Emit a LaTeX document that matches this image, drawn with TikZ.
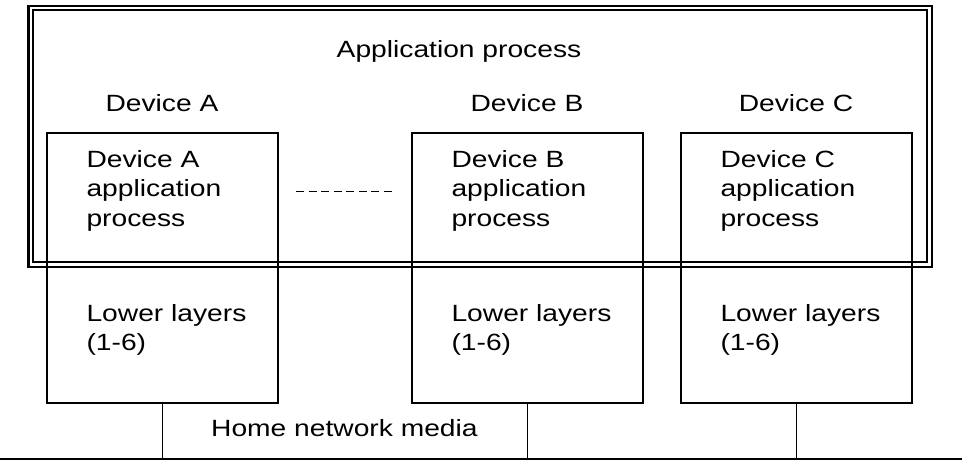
\documentclass[tikz,border=0pt]{standalone}
\usepackage{fontspec}
\setmainfont{Liberation Sans}[FakeStretch=1.2]
\usetikzlibrary{arrows,shapes}
\tikzstyle{device}=[draw,rectangle,line width=1.3pt,minimum width=231pt,minimum height=270pt,inner sep=0pt]
\tikzstyle{frame}=[draw,double,line width=2.2pt,double distance=2.2pt]
\tikzstyle{txt}=[inner sep=0pt,font=\fontsize{23.5}{29.5}\selectfont]
\tikzstyle{edge} = [draw,line width=1.1pt,-]

\begin{document}
\begin{tikzpicture}[x=1pt,y=-1pt]
    \useasboundingbox (0,0) rectangle (962,460);
    % Draw the application process frame
    \draw[frame] (30.75,7.9) rectangle (929.5,264.5);
    \node[txt,anchor=base] (app) at (459,58) {Application process};
    % First we draw the devices
    \foreach \pos/\name in {{(162.5,268)/A}, {(527.5,268)/B}, {(796.5,268)/C}}
        \node[device] (dev\name) at \pos {};
    \foreach \x/\name in {162/A, 527/B, 796/C}
        \node[txt,anchor=base] (head\name) at (\x,111) {Device \name};
    % Texts inside the devices (base = last line)
    \foreach \name in {A,B,C} {
        \node[txt,align=left,anchor=base west] (proc\name) at ([xshift=40pt,yshift=-94pt]dev\name.north west) {Device \name\\application\\process};
        \node[txt,align=left,anchor=base west] (low\name) at ([xshift=40pt,yshift=-218.5pt]dev\name.north west) {Lower layers\\(1-6)};
    }
    \coordinate (dashL) at (296,191);
    \coordinate (dashR) at (393,191);
    \draw[line width=1pt,dash pattern=on 8pt off 4.5pt] (dashL) -- (dashR);
    % Home network media
    \coordinate (mediaL) at (0,459);
    \coordinate (mediaR) at (962,459);
    \path[edge] (mediaL) -- (mediaR);
    \foreach \name in {A,B,C}
        \path[edge] (dev\name.south) -- (dev\name.south |- mediaL);
    \node[txt,anchor=base west] (media) at (211,436) {Home network media};
\end{tikzpicture}
\end{document}
